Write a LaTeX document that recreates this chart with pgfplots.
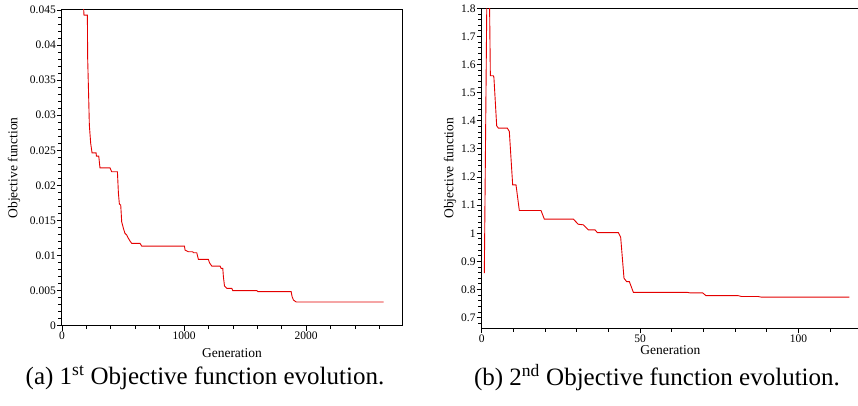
\documentclass[border=0pt]{standalone}
\usepackage{pgfplots}
\pgfplotsset{compat=1.18}
\usepackage{fontspec}
\setmainfont{Liberation Serif}
\definecolor{curve}{RGB}{228,0,0}

\pgfplotsset{
  evo/.style={
    scale only axis,
    axis line style={line width=1pt},
    tick align=outside, tick pos=left,
    major tick length=5pt, minor tick length=3.5pt,
    every tick/.style={black, line width=0.8pt},
    xticklabel style={font=\rmfamily\fontsize{11.5}{13}\selectfont, inner sep=1pt},
    yticklabel style={font=\rmfamily\fontsize{11.5}{13}\selectfont, inner sep=1pt,
      /pgf/number format/fixed, /pgf/number format/precision=3},
    /pgf/number format/assume math mode=true,
    /pgf/number format/1000 sep={},
    scaled y ticks=false, scaled x ticks=false,
  }
}

\begin{document}
\begin{tikzpicture}
\useasboundingbox (0,0) rectangle (858pt,406pt);

% (a) first objective
\begin{axis}[evo,
  at={(62pt,80.3pt)}, anchor=south west,
  width=340pt, height=315.7pt,
  xmin=0, xmax=2785, ymin=0, ymax=0.045,
  xtick={0,1000,2000}, minor xtick={200,400,...,2600},
  ytick={0,0.005,...,0.0451}, minor ytick={0.001,0.002,...,0.0445},
  xlabel={Generation}, ylabel={Objective function},
  every axis x label/.style={at={(axis description cs:0.5,-0.0855)}, anchor=center,
    font=\rmfamily\fontsize{13.5}{16}\selectfont},
  every axis y label/.style={at={(axis description cs:-0.141,0.5)}, rotate=90, anchor=center,
    font=\rmfamily\fontsize{13.5}{16}\selectfont},
]
\addplot[curve, line width=0.9pt] coordinates {
(172,0.0470) (180,0.04426) (208,0.04426) (210,0.0383) (219,0.0322) (224,0.0286)
(235,0.0260) (246,0.02464) (279,0.02464) (282,0.02418) (301,0.02418) (311,0.0225)
(393,0.0225) (407,0.02194) (454,0.02194) (462,0.0189) (470,0.01733) (481,0.01720)
(489,0.01481) (503,0.01387) (516,0.01316) (530,0.01292) (544,0.01245) (557,0.01207)
(571,0.01174) (639,0.01174) (653,0.01135) (1003,0.01135) (1008,0.01078) (1036,0.01054)
(1071,0.01054) (1077,0.0104) (1104,0.0104) (1117,0.00946) (1199,0.00946) (1208,0.00897)
(1227,0.0085) (1295,0.0085) (1303,0.00818) (1317,0.00818) (1322,0.00698) (1331,0.00566)
(1350,0.00533) (1391,0.00533) (1399,0.00499) (1596,0.00499) (1604,0.00485) (1877,0.00485)
(1885,0.00413) (1896,0.00366) (1918,0.00338) (2634,0.00338)
};
\end{axis}

% (b) second objective
\begin{axis}[evo,
  at={(481.7pt,77.7pt)}, anchor=south west,
  width=377.5pt, height=320pt,
  xmin=0, xmax=119.2, ymin=0.662, ymax=1.8,
  xtick={0,50,100}, minor xtick={10,20,30,40,60,70,80,90,110},
  ytick={0.7,0.8,...,1.81}, minor ytick={0.68,0.72,0.74,0.76,0.78,0.82,0.84,0.86,0.88,0.92,0.94,0.96,0.98,1.02,1.04,1.06,1.08,1.12,1.14,1.16,1.18,1.22,1.24,1.26,1.28,1.32,1.34,1.36,1.38,1.42,1.44,1.46,1.48,1.52,1.54,1.56,1.58,1.62,1.64,1.66,1.68,1.72,1.74,1.76,1.78},
  xlabel={Generation}, ylabel={Objective function},
  every axis x label/.style={at={(axis description cs:0.5,-0.068)}, anchor=center,
    font=\rmfamily\fontsize{13.5}{16}\selectfont},
  every axis y label/.style={at={(axis description cs:-0.084,0.5)}, rotate=90, anchor=center,
    font=\rmfamily\fontsize{13.5}{16}\selectfont},
]
\addplot[curve, line width=0.9pt] coordinates {
(0.83,0.858) (2.0,2.3) (2.73,1.56) (3.67,1.56) (3.85,1.555) (4.73,1.382) (5.25,1.374)
(8.09,1.374) (8.72,1.362) (9.78,1.172) (10.83,1.172) (11.88,1.081) (18.72,1.081)
(19.78,1.050) (28.94,1.050) (30.51,1.032) (32.09,1.030) (33.67,1.012) (35.78,1.012)
(36.51,1.0025) (43.14,1.0025) (43.88,0.986) (44.93,0.840) (45.77,0.828) (46.62,0.828)
(47.88,0.790) (64.72,0.790) (65.77,0.788) (69.77,0.788) (70.82,0.778) (81.03,0.778)
(82.08,0.775) (87.34,0.775) (88.39,0.7726) (116.1,0.7726)
};
\end{axis}

\node[font=\rmfamily\fontsize{25}{30}\selectfont] at (205pt,28pt) {(a) 1\textsuperscript{st} Objective function evolution.};
\node[font=\rmfamily\fontsize{25}{30}\selectfont] at (657pt,28pt) {(b) 2\textsuperscript{nd} Objective function evolution.};
\end{tikzpicture}
\end{document}
